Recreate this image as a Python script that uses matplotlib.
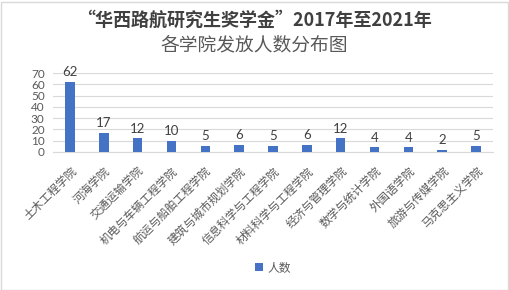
import matplotlib
matplotlib.use("Agg")
import matplotlib.pyplot as plt
from matplotlib.patches import Rectangle

plt.rcParams["font.family"] = ["Noto Sans CJK SC", "DejaVu Sans"]

colleges = [
    "土木工程学院", "河海学院", "交通运输学院", "机电与车辆工程学院",
    "航运与船舶工程学院", "建筑与城市规划学院", "信息科学与工程学院",
    "材料科学与工程学院", "经济与管理学院", "数学与统计学院",
    "外国语学院", "旅游与传媒学院", "马克思主义学院",
]
counts = [62, 17, 12, 10, 5, 6, 5, 6, 12, 4, 4, 2, 5]
yticks = [0, 10, 20, 30, 40, 50, 60, 70]

BAR = "#4472C4"
TXT = "#595959"

fig = plt.figure(figsize=(5.09, 2.9), dpi=100)
W, H = 509, 290
ax = fig.add_axes([53 / W, 1 - 152 / H, 440 / W, 79 / H])

x = list(range(len(colleges)))
ax.bar(x, counts, width=0.28, color=BAR, zorder=3, label="人数")
for xi, v in zip(x, counts):
    ax.text(xi, v + 3.5, str(v), ha="center", va="bottom", fontsize=9.5,
            color="#404040", family="Lato")

ax.set_xlim(-0.5, len(colleges) - 0.5)
ax.set_ylim(0, 70)
ax.set_yticks(yticks)
ax.set_yticklabels([str(t) for t in yticks], fontsize=8.5, color=TXT, family="Lato")
ax.yaxis.grid(True, color="#D9D9D9", lw=0.8, zorder=0)
ax.set_xticks(x)
ax.set_xticklabels(colleges, rotation=45, ha="right", rotation_mode="anchor",
                   fontsize=8.3, color=TXT)
ax.tick_params(axis="y", length=0, pad=6)
ax.tick_params(axis="x", length=0, pad=9)
for s in ["top", "right", "left"]:
    ax.spines[s].set_visible(False)
ax.spines["bottom"].set_color("#D9D9D9")

fig.text(0.5, 1 - 20 / H, "“华西路航研究生奖学金”2017年至2021年", ha="center", va="center",
         fontsize=13, color="#404040", weight="bold")
fig.text(0.5, 1 - 45 / H, "各学院发放人数分布图", ha="center", va="center",
         fontsize=13.5, color=TXT)

ax.legend(loc="center", bbox_to_anchor=(0.5, (268 - 152) / -79), frameon=False,
          fontsize=8.5, handlelength=0.7, handleheight=0.7, handletextpad=0.4,
          labelcolor=TXT)

fig.patches.append(Rectangle((0.5 / W, 0.5 / H), 1 - 2 / W, 1 - 2 / H,
                             transform=fig.transFigure, fill=False,
                             edgecolor="#D9D9D9", lw=1))
fig.savefig("out.png", dpi=100)
